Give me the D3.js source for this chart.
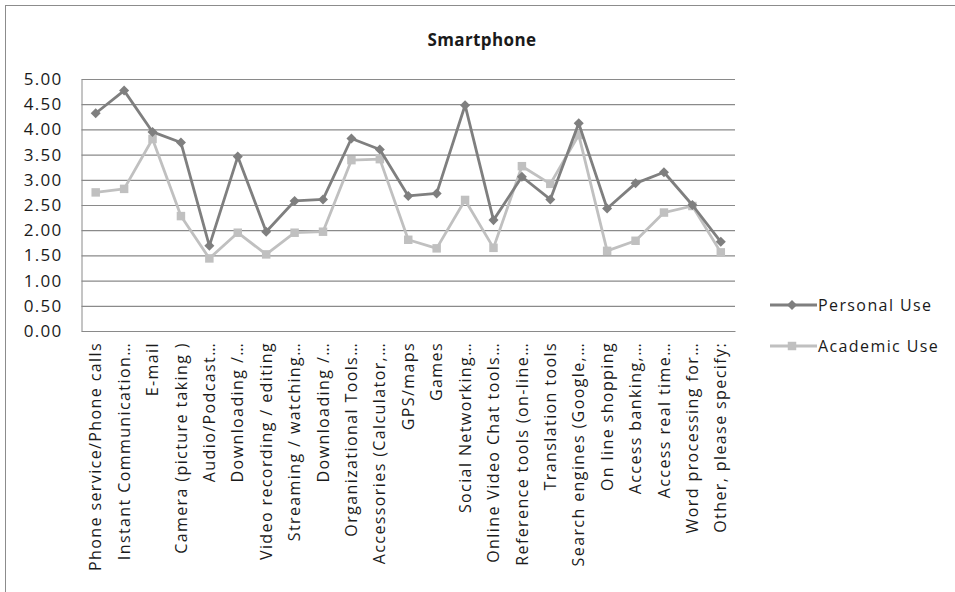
<!DOCTYPE html>
<html>
<head>
<meta charset="utf-8">
<script src="https://cdn.jsdelivr.net/npm/d3@7"></script>
<style>
  html, body { margin: 0; padding: 0; background: #fff; }
  svg { display: block; }
  text { font-family: "Open Sans", "Noto Sans", sans-serif; fill: #1a1a1a; }
</style>
</head>
<body>
<script>
// Survey results: mean rating of smartphone uses
const categories = [
  "Phone service/Phone calls",
  "Instant Communication…",
  "E-mail",
  "Camera (picture taking )",
  "Audio/Podcast…",
  "Downloading /…",
  "Video recording / editing",
  "Streaming  / watching…",
  "Downloading /…",
  "Organizational Tools…",
  "Accessories (Calculator,…",
  "GPS/maps",
  "Games",
  "Social Networking…",
  "Online Video Chat tools…",
  "Reference tools (on-line…",
  "Translation tools",
  "Search engines (Google,…",
  "On line shopping",
  "Access banking,…",
  "Access real time…",
  "Word processing for…",
  "Other, please specify:"
];
const personalUse = [4.32, 4.77, 3.95, 3.74, 1.69, 3.46, 1.97, 2.58, 2.61, 3.82, 3.60, 2.68, 2.73,
                     4.48, 2.20, 3.06, 2.61, 4.12, 2.43, 2.93, 3.15, 2.50, 1.77];
const academicUse = [2.75, 2.82, 3.81, 2.28, 1.44, 1.95, 1.52, 1.95, 1.97, 3.39, 3.41, 1.81, 1.64,
                     2.60, 1.65, 3.27, 2.92, 3.89, 1.59, 1.79, 2.35, 2.48, 1.56];
const yTicks = [0, 0.5, 1, 1.5, 2, 2.5, 3, 3.5, 4, 4.5, 5];
const seriesNames = ["Personal Use", "Academic Use"];

const W = 955, H = 592;
const svg = d3.select("body").append("svg").attr("width", W).attr("height", H);

// chart frame
svg.append("rect").attr("x", 5.5).attr("y", 5.5).attr("width", W + 10).attr("height", H + 10)
  .attr("fill", "#fff").attr("stroke", "#8c8c8c").attr("stroke-width", 1);

const plot = { left: 81.5, right: 735, top: 79, bottom: 331 };

const x = d3.scaleBand().domain(d3.range(categories.length)).range([plot.left, plot.right]);
const cx = i => x(i) + x.bandwidth() / 2;
const y = d3.scaleLinear().domain([0, 5]).range([plot.bottom, plot.top]);

// title
svg.append("text").attr("x", 482).attr("y", 46).attr("text-anchor", "middle")
  .style("font-size", "17px").style("font-weight", "bold").style("letter-spacing", "0.4px")
  .text("Smartphone");

// horizontal gridlines + y tick labels
const yAxis = d3.axisLeft(y).tickValues(yTicks).tickFormat(d3.format(".2f"))
  .tickSize(-(plot.right - plot.left)).tickPadding(20);
const gy = svg.append("g").attr("transform", `translate(${plot.left},0)`).call(yAxis);
gy.select(".domain").attr("stroke", "#8a8a8a");
gy.selectAll(".tick line").attr("stroke", "#8a8a8a").attr("stroke-width", 1.2);
gy.selectAll(".tick text").style("font-size", "17px").style("letter-spacing", "1.3px")
  .attr("fill", "#1a1a1a").attr("x", -19);

// category labels, rotated
const xAxis = d3.axisBottom(x).tickSize(0).tickFormat(i => categories[i]);
const gx = svg.append("g").attr("transform", `translate(0,${plot.bottom})`).call(xAxis);
gx.select(".domain").attr("stroke", "#8a8a8a");
gx.selectAll(".tick text")
  .style("font-size", "16px").style("letter-spacing", "1.4px").attr("fill", "#1a1a1a")
  .attr("text-anchor", "end")
  .attr("transform", "rotate(-90)")
  .attr("x", -11).attr("y", 0).attr("dy", "0.35em");

// series
const colors = ["#7f7f7f", "#c0c0c0"];
const data = [personalUse, academicUse];
const line = d3.line().x((d, i) => cx(i)).y(d => y(d));

// academic drawn first so personal sits on top
[1, 0].forEach(s => {
  svg.append("path").datum(data[s]).attr("d", line)
    .attr("fill", "none").attr("stroke", colors[s]).attr("stroke-width", 2.8)
    .attr("stroke-linejoin", "round");
  const sym = s === 0 ? d3.symbol(d3.symbolDiamond2, 64) : d3.symbol(d3.symbolSquare, 72);
  svg.append("g").selectAll("path").data(data[s]).join("path")
    .attr("d", sym).attr("transform", (d, i) => `translate(${cx(i)},${y(d)})`)
    .attr("fill", colors[s]);
});

// legend
const legend = svg.append("g");
[305, 346].forEach((ly, s) => {
  legend.append("line").attr("x1", 770).attr("x2", 817).attr("y1", ly).attr("y2", ly)
    .attr("stroke", colors[s]).attr("stroke-width", 2.8);
  const sym = s === 0 ? d3.symbol(d3.symbolDiamond2, 64) : d3.symbol(d3.symbolSquare, 72);
  legend.append("path").attr("d", sym).attr("transform", `translate(792,${ly})`).attr("fill", colors[s]);
  legend.append("text").attr("x", 818).attr("y", ly).attr("dy", "0.35em")
    .style("font-size", "16px").style("letter-spacing", "1.4px").text(seriesNames[s]);
});
</script>
</body>
</html>
